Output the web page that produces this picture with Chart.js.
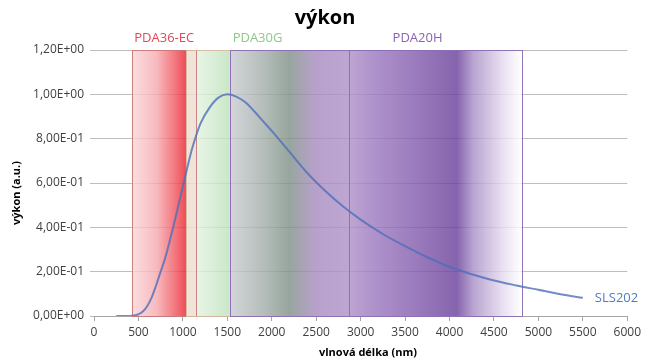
<!DOCTYPE html>
<html>
<head>
<meta charset="utf-8">
<script src="https://cdn.jsdelivr.net/npm/chart.js@4"></script>
<style>
html,body{margin:0;padding:0;background:#fff;}
canvas{display:block;}
</style>
</head>
<body>
<canvas id="c" width="645" height="364"></canvas>
<script>
// ---- data ----
const wavelengths = [250,300,400,450,500,550,600,650,700,750,800,850,900,950,1000,1050,1100,1150,1200,1300,1400,1500,1600,1700,1800,1900,2000,2200,2400,2600,2800,3000,3250,3500,3750,4000,4250,4500,4750,5000,5250,5500];
const power = [0,0,0,0.002,0.008,0.02,0.045,0.085,0.14,0.2,0.26,0.335,0.415,0.5,0.585,0.67,0.75,0.815,0.87,0.94,0.985,1.0,0.99,0.965,0.925,0.88,0.835,0.74,0.645,0.565,0.495,0.435,0.37,0.315,0.265,0.222,0.188,0.16,0.138,0.118,0.098,0.082];
const seriesName = 'SLS202';
const xTickLabels = ['0','500','1000','1500','2000','2500','3000','3500','4000','4500','5000','5500','6000'];
const yTickLabels = ['0,00E+00','2,00E-01','4,00E-01','6,00E-01','8,00E-01','1,00E+00','1,20E+00'];
const bandNames = ['PDA36-EC','PDA30G','PDA20H'];
const bandStart = [426, 1040, 1525];
const bandEnd = [1150, 1525, 4810];

const FONT = "'Open Sans', 'Liberation Sans', sans-serif";

const bandStyle = [
  {label:'#e04a55', labelX:790, border:'rgba(200,120,120,0.9)',
   stops:[[426,'rgb(250,214,217)'],[700,'rgb(246,172,177)'],[960,'rgb(238,70,80)'],[1040,'rgb(234,36,48)']],
   extra:[{from:1040,to:1150,color:'rgb(236,222,206)'}]},
  {label:'#8cc888', labelX:1840, border:'rgba(215,185,160,0.9)',
   stops:[[1150,'rgb(228,243,225)'],[1525,'rgb(190,226,188)']], drawFrom:1150},
  {label:'#8a62b0', labelX:3640, border:'rgba(140,110,180,0.95)',
   stops:[[1525,'rgb(202,205,210)'],[1900,'rgb(165,176,172)'],[2197,'rgb(128,146,136)'],[2478,'rgb(167,140,191)'],[2870,'rgb(176,146,201)'],[3094,'rgb(160,126,194)'],[4081,'rgb(108,66,156)'],[4271,'rgb(170,145,200)'],[4600,'rgb(228,218,238)'],[4810,'rgb(255,255,255)']],
   inner:[2870]}
];

const bandsPlugin = {
  id:'bands',
  beforeDatasetsDraw(chart){
    const {ctx, scales:{x,y}} = chart;
    const top = y.getPixelForValue(1.2), bot = y.getPixelForValue(0);
    ctx.save();
    ctx.globalAlpha = 0.82;
    bandStart.forEach((s,i)=>{
      const st = bandStyle[i];
      const from = st.drawFrom !== undefined ? st.drawFrom : s;
      const a = st.stops[0][0], b = st.stops[st.stops.length-1][0];
      const x0 = x.getPixelForValue(from), x1 = x.getPixelForValue(b);
      const g = ctx.createLinearGradient(x.getPixelForValue(a),0,x.getPixelForValue(b),0);
      st.stops.forEach(([w,c])=>g.addColorStop((w-a)/(b-a), c));
      ctx.fillStyle = g;
      ctx.fillRect(x0, top, x1-x0, bot-top);
      (st.extra||[]).forEach(e=>{
        ctx.fillStyle = e.color;
        const ex0 = x.getPixelForValue(e.from), ex1 = x.getPixelForValue(e.to);
        ctx.fillRect(ex0, top, ex1-ex0, bot-top);
      });
    });
    ctx.globalAlpha = 1;
    bandStart.forEach((s,i)=>{
      const st = bandStyle[i];
      const x0 = Math.round(x.getPixelForValue(s))+0.5, x1 = Math.round(x.getPixelForValue(bandEnd[i]))+0.5;
      ctx.strokeStyle = st.border; ctx.lineWidth = 1;
      ctx.strokeRect(x0, Math.round(top)+0.5, x1-x0, Math.round(bot)-Math.round(top));
      (st.inner||[]).forEach(w=>{
        const xi = Math.round(x.getPixelForValue(w))+0.5;
        ctx.beginPath(); ctx.moveTo(xi, top); ctx.lineTo(xi, bot); ctx.stroke();
      });
      ctx.fillStyle = st.label;
      ctx.font = '13px ' + FONT;
      ctx.textAlign = 'center'; ctx.textBaseline = 'middle';
      ctx.fillText(bandNames[i], x.getPixelForValue(st.labelX), 38);
    });
    ctx.restore();
  },
  afterDatasetsDraw(chart){
    const {ctx} = chart;
    ctx.save();
    const meta = chart.getDatasetMeta(0);
    const last = meta.data[meta.data.length-1];
    ctx.fillStyle = '#4f7cc0';
    ctx.font = '13px ' + FONT;
    ctx.textAlign = 'left'; ctx.textBaseline = 'middle';
    ctx.fillText(seriesName, last.x + 12, last.y);
    ctx.fillStyle = '#000';
    ctx.font = 'bold 20px ' + FONT;
    ctx.textAlign = 'center';
    ctx.fillText('výkon', 325, 18);
    ctx.font = 'bold 11px ' + FONT;
    ctx.fillText('vlnová délka (nm)', 368, 353);
    ctx.translate(17, 193);
    ctx.rotate(-Math.PI/2);
    ctx.fillText('výkon (a.u.)', 0, 0);
    ctx.restore();
  }
};

const bgPlugin = {
  id:'bg',
  beforeDraw(chart){ const c=chart.ctx; c.save(); c.fillStyle='#fff'; c.fillRect(0,0,chart.width,chart.height); c.restore(); }
};

new Chart(document.getElementById('c'), {
  type:'line',
  data:{ datasets:[{
    label: seriesName,
    data: wavelengths.map((w,i)=>({x:w, y:power[i]})),
    borderColor:'rgba(80,110,185,0.8)', borderWidth:2, pointRadius:0, cubicInterpolationMode:'monotone', fill:false
  }]},
  options:{
    responsive:false, animation:false, devicePixelRatio:1,
    layout:{padding:{top:50, right:14, left:0, bottom:0}},
    plugins:{legend:{display:false}, title:{display:false}, tooltip:{enabled:false}},
    scales:{
      x:{ type:'linear', min:0, max:6000,
          afterFit(s){ s.height = 48; },
          ticks:{stepSize:500, color:'#404040', font:{family:FONT, size:12}, padding:4, maxRotation:0, autoSkip:false,
                 callback:(v,i)=>xTickLabels[i]},
          grid:{drawOnChartArea:false, drawTicks:true, tickLength:5, color:'#a6a6a6'},
          border:{display:true, color:'#a6a6a6'} },
      y:{ min:0, max:1.2,
          afterFit(s){ s.width = 94; },
          ticks:{stepSize:0.2, color:'#404040', font:{family:FONT, size:12}, padding:6,
                 callback:(v,i)=>yTickLabels[i]},
          grid:{color:'#bdbdbd', tickLength:4, drawTicks:true},
          border:{display:false} }
    }
  },
  plugins:[bgPlugin, bandsPlugin]
});
</script>
</body>
</html>
